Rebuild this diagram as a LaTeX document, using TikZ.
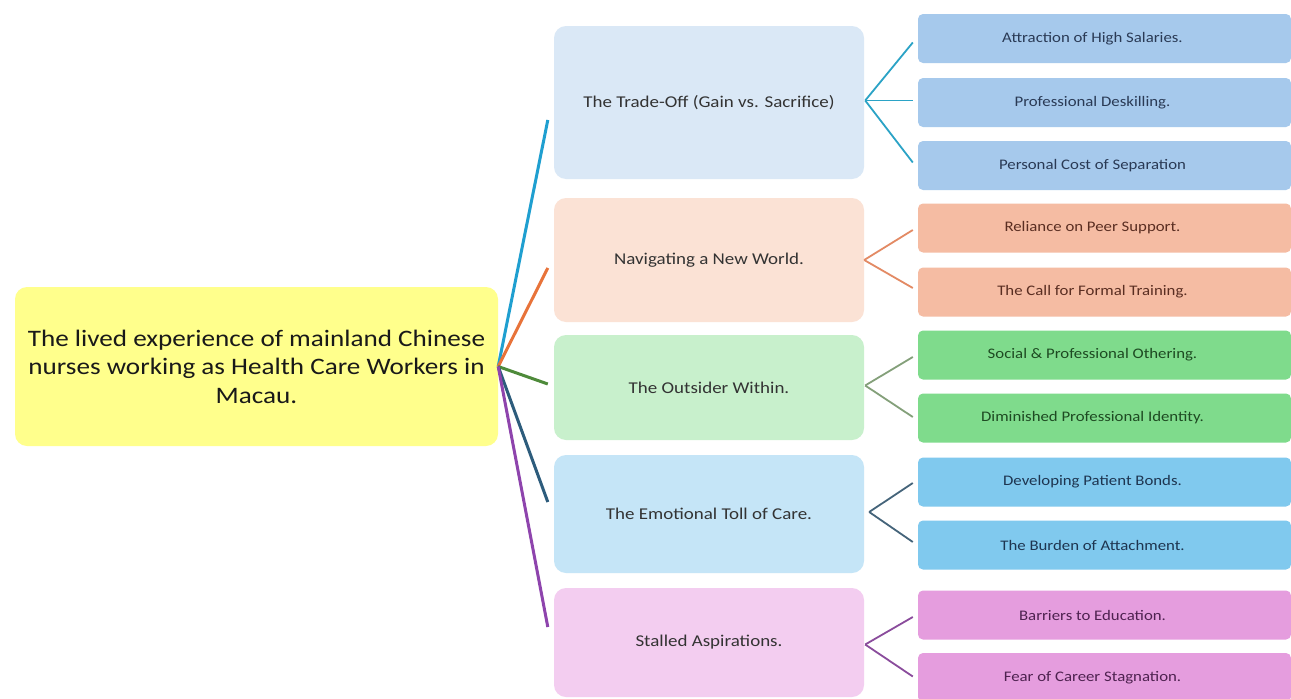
\documentclass[tikz,border=0pt]{standalone}
\usepackage{fontspec}
\setmainfont{Carlito}[FakeStretch=1.15]
\usetikzlibrary{calc}
\definecolor{rootfill}{HTML}{FFFF8C}
\definecolor{mA}{HTML}{DAE8F6}\definecolor{lA}{HTML}{A6C9EC}\definecolor{cA}{HTML}{1F9FD0}\definecolor{sA}{HTML}{2BA3C6}\definecolor{tA}{HTML}{2A3A55}
\definecolor{mB}{HTML}{FBE2D5}\definecolor{lB}{HTML}{F5BCA3}\definecolor{cB}{HTML}{E8733A}\definecolor{sB}{HTML}{E38A64}\definecolor{tB}{HTML}{5A2E22}
\definecolor{mC}{HTML}{C8F0CC}\definecolor{lC}{HTML}{7FDB8C}\definecolor{cC}{HTML}{4E8A3A}\definecolor{sC}{HTML}{84A07A}\definecolor{tC}{HTML}{1E4A22}
\definecolor{mD}{HTML}{C5E5F7}\definecolor{lD}{HTML}{80C9EE}\definecolor{cD}{HTML}{2D5C7C}\definecolor{sD}{HTML}{45647A}\definecolor{tD}{HTML}{1E3550}
\definecolor{mE}{HTML}{F3CDF0}\definecolor{lE}{HTML}{E59DDE}\definecolor{cE}{HTML}{8E44AD}\definecolor{sE}{HTML}{8A4C9C}\definecolor{tE}{HTML}{4E2250}
\definecolor{midtext}{HTML}{333333}
\newcommand\leaftxt[1]{#1\kern24pt\relax}
\begin{document}
\begin{tikzpicture}[x=1pt,y=-1pt,
  rootbox/.style={fill=rootfill, rounded corners=12pt, minimum width=483pt, minimum height=159pt, align=center, text=black!90, font=\fontsize{23.6}{28.6}\selectfont},
  midbox/.style={rounded corners=12pt, minimum width=310pt, align=center, text=midtext, font=\fontsize{16.5}{20}\selectfont},
  leafbox/.style={rounded corners=5pt, minimum width=373pt, minimum height=49pt, font=\fontsize{14.6}{17}\selectfont},
  mainconn/.style={line width=3pt},
  subconn/.style={line width=1.8pt}]
\useasboundingbox[fill=white] (0,0) rectangle (1291,699);
\node[rootbox] (root) at (256.5,366.5) {The lived experience of mainland Chinese\\nurses working as Health Care Workers in\\Macau.};
\node[midbox, fill=mA, minimum height=153pt] (m1) at (709,102.5) {The Trade-Off (Gain vs. Sacrifice)};
\node[midbox, fill=mB, minimum height=124pt] (m2) at (709,260) {Navigating a New World.};
\node[midbox, fill=mC, minimum height=105pt] (m3) at (709,387.5) {The Outsider Within.};
\node[midbox, fill=mD, minimum height=118pt] (m4) at (709,514) {The Emotional Toll of Care.};
\node[midbox, fill=mE, minimum height=109pt] (m5) at (709,642.5) {Stalled Aspirations.};
\node[leafbox, fill=lA, text=tA] (l11) at (1104.5,38.5) {\leaftxt{Attraction of High Salaries.}};
\node[leafbox, fill=lA, text=tA] (l12) at (1104.5,102.5) {\leaftxt{Professional Deskilling.}};
\node[leafbox, fill=lA, text=tA] (l13) at (1104.5,165.5) {\leaftxt{Personal Cost of Separation}};
\node[leafbox, fill=lB, text=tB] (l21) at (1104.5,228) {\leaftxt{Reliance on Peer Support.}};
\node[leafbox, fill=lB, text=tB] (l22) at (1104.5,292) {\leaftxt{The Call for Formal Training.}};
\node[leafbox, fill=lC, text=tC] (l31) at (1104.5,355) {\leaftxt{Social \& Professional Othering.}};
\node[leafbox, fill=lC, text=tC] (l32) at (1104.5,418) {\leaftxt{Diminished Professional Identity.}};
\node[leafbox, fill=lD, text=tD] (l41) at (1104.5,482) {\leaftxt{Developing Patient Bonds.}};
\node[leafbox, fill=lD, text=tD] (l42) at (1104.5,545) {\leaftxt{The Burden of Attachment.}};
\node[leafbox, fill=lE, text=tE] (l51) at (1104.5,615) {\leaftxt{Barriers to Education.}};
\node[leafbox, fill=lE, text=tE] (l52) at (1104.5,677.5) {\leaftxt{Fear of Career Stagnation.}};
\draw[mainconn, cA] (root.east) -- ($(m1.west)+(-6,17.5)$);
\draw[mainconn, cB] (root.east) -- ($(m2.west)+(-6,8)$);
\draw[mainconn, cC] (root.east) -- ($(m3.west)+(-6,-3.5)$);
\draw[mainconn, cD] (root.east) -- ($(m4.west)+(-6,-12)$);
\draw[mainconn, cE] (root.east) -- ($(m5.west)+(-6,-15.5)$);
\draw[subconn, sA] ($(m1.east)+(1,-2)$) -- ($(l11.west)+(-5,4)$);
\draw[subconn, sA] ($(m1.east)+(1,-2)$) -- ($(l12.west)+(-5,-2)$);
\draw[subconn, sA] ($(m1.east)+(1,-2)$) -- ($(l13.west)+(-5,-3)$);
\draw[subconn, sB] (m2.east) -- ($(l21.west)+(-5,2)$);
\draw[subconn, sB] (m2.east) -- ($(l22.west)+(-5,-4)$);
\draw[subconn, sC] ($(m3.east)+(1,-2)$) -- ($(l31.west)+(-5,2)$);
\draw[subconn, sC] ($(m3.east)+(1,-2)$) -- ($(l32.west)+(-5,-1)$);
\draw[subconn, sD] ($(m4.east)+(5,-2)$) -- ($(l41.west)+(-5,1)$);
\draw[subconn, sD] ($(m4.east)+(5,-2)$) -- ($(l42.west)+(-5,-3)$);
\draw[subconn, sE] ($(m5.east)+(1,2)$) -- ($(l51.west)+(-5,2)$);
\draw[subconn, sE] ($(m5.east)+(1,2)$) -- ($(l52.west)+(-5,-1)$);
\end{tikzpicture}
\end{document}
